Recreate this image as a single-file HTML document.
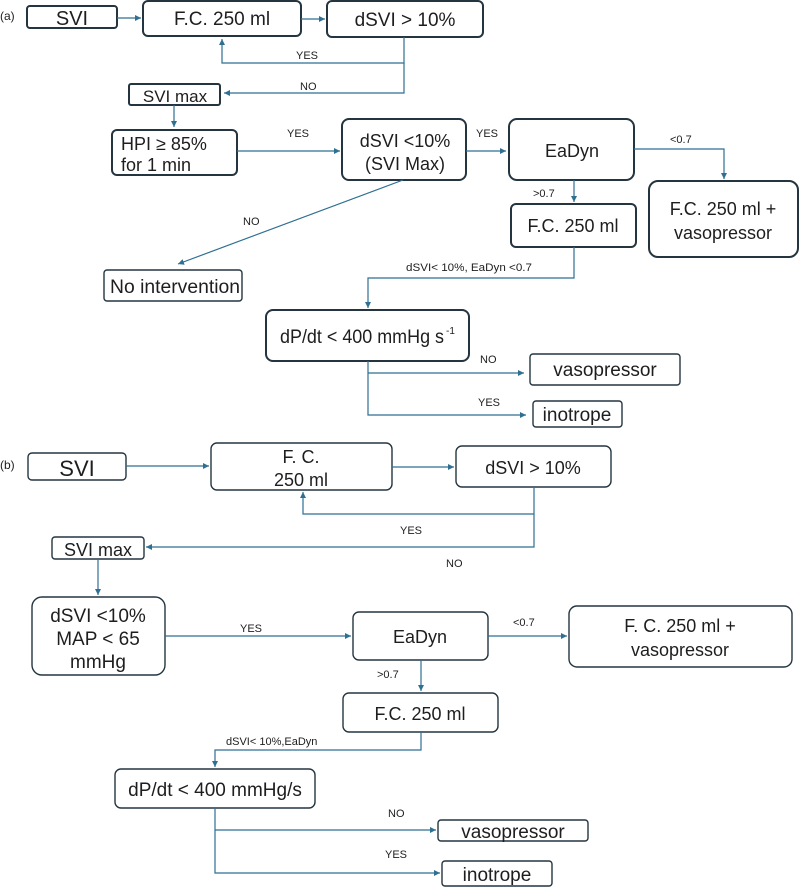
<!DOCTYPE html>
<html><head><meta charset="utf-8"><style>
html,body{margin:0;padding:0;background:#fff;}
svg{display:block;}
text{font-family:"Liberation Sans",sans-serif;fill:#1e1e1e;}
.b{fill:#fff;stroke:#243540;stroke-width:2;}
.b2{fill:#fff;stroke:#243540;stroke-width:1.4;}
.l{fill:none;stroke:#2e6f92;stroke-width:1.2;}
.s{font-size:11px;}
</style></head><body>
<svg width="800" height="887" viewBox="0 0 800 887" xmlns="http://www.w3.org/2000/svg">
<defs><marker id="a" markerWidth="8" markerHeight="8" refX="6" refY="3" orient="auto" markerUnits="userSpaceOnUse"><path d="M0,0 L6,3 L0,6 z" fill="#2e6f92"/></marker></defs>

<!-- (a) -->
<text x="0" y="20" font-size="12">(a)</text>
<rect class="b" x="27" y="6" width="90" height="22" rx="3"/>
<text x="72" y="25" font-size="20" text-anchor="middle">SVI</text>
<rect class="b" x="143" y="1" width="158" height="35" rx="5"/>
<text x="222" y="25" font-size="19" text-anchor="middle">F.C. 250 ml</text>
<rect class="b" x="327" y="1" width="156" height="36" rx="5"/>
<text x="405" y="26" font-size="19" text-anchor="middle">dSVI &gt; 10%</text>
<line class="l" x1="117" y1="18" x2="141" y2="18" marker-end="url(#a)"/>
<line class="l" x1="301" y1="19" x2="325" y2="19" marker-end="url(#a)"/>
<polyline class="l" points="404,37 404,63 222,63 222,39" marker-end="url(#a)"/>
<text x="296" y="59" class="s">YES</text>
<polyline class="l" points="404,63 404,93 224,93" marker-end="url(#a)"/>
<text x="300" y="90" class="s">NO</text>
<rect class="b" x="129" y="84" width="91" height="21" rx="2"/>
<text x="175" y="102" font-size="17" text-anchor="middle">SVI max</text>
<line class="l" x1="174" y1="105" x2="174" y2="127" marker-end="url(#a)"/>
<rect class="b" x="112" y="130" width="125" height="45" rx="5"/>
<text x="121" y="150" font-size="18">HPI ≥ 85%</text>
<text x="121" y="171" font-size="18">for 1 min</text>
<line class="l" x1="237" y1="151" x2="340" y2="151" marker-end="url(#a)"/>
<text x="287" y="137" class="s">YES</text>
<rect class="b" x="342" y="119" width="124" height="61" rx="7"/>
<text x="405" y="147" font-size="18" text-anchor="middle">dSVI &lt;10%</text>
<text x="405" y="170" font-size="18" text-anchor="middle">(SVI Max)</text>
<line class="l" x1="466" y1="151" x2="506" y2="151" marker-end="url(#a)"/>
<text x="476" y="137" class="s">YES</text>
<rect class="b" x="509" y="119" width="125" height="61" rx="8"/>
<text x="572" y="157" font-size="18" text-anchor="middle">EaDyn</text>
<polyline class="l" points="634,149 724,149 724,179" marker-end="url(#a)"/>
<text x="670" y="143" class="s">&lt;0.7</text>
<rect class="b" x="649" y="181" width="149" height="76" rx="9"/>
<text x="723" y="215" font-size="18" text-anchor="middle">F.C. 250 ml +</text>
<text x="723" y="239" font-size="18" text-anchor="middle">vasopressor</text>
<line class="l" x1="574" y1="180" x2="574" y2="202" marker-end="url(#a)"/>
<text x="533" y="197" class="s">&gt;0.7</text>
<rect class="b" x="511" y="204" width="125" height="43" rx="5"/>
<text x="573" y="232" font-size="18" text-anchor="middle">F.C. 250 ml</text>
<line class="l" x1="403" y1="180" x2="178" y2="264" marker-end="url(#a)"/>
<text x="243" y="225" class="s">NO</text>
<rect class="b2" x="104" y="270" width="138" height="31" rx="3"/>
<text x="110" y="293" font-size="19" textLength="130" lengthAdjust="spacingAndGlyphs">No intervention</text>
<polyline class="l" points="574,247 574,278 368,278 368,308" marker-end="url(#a)"/>
<text x="406" y="271" class="s" textLength="126" lengthAdjust="spacingAndGlyphs">dSVI&lt; 10%, EaDyn &lt;0.7</text>
<rect class="b" x="266" y="310" width="203" height="51" rx="7"/>
<text x="280" y="343" font-size="19" textLength="164" lengthAdjust="spacingAndGlyphs">dP/dt &lt; 400 mmHg s</text>
<text x="446" y="334" font-size="10">-1</text>
<polyline class="l" points="368,361 368,415 526,415" marker-end="url(#a)"/>
<line class="l" x1="368" y1="373" x2="524" y2="373" marker-end="url(#a)"/>
<text x="480" y="363" class="s">NO</text>
<text x="478" y="406" class="s">YES</text>
<rect class="b2" x="530" y="354" width="150" height="31" rx="3"/>
<text x="605" y="376" font-size="19" text-anchor="middle">vasopressor</text>
<rect class="b2" x="533" y="401" width="89" height="26" rx="3"/>
<text x="577" y="421" font-size="19" text-anchor="middle">inotrope</text>

<!-- (b) -->
<text x="0" y="469" font-size="12">(b)</text>
<rect class="b2" x="28" y="453" width="98" height="27" rx="4"/>
<text x="77" y="476" font-size="22" text-anchor="middle">SVI</text>
<line class="l" x1="126" y1="466" x2="209" y2="466" marker-end="url(#a)"/>
<rect class="b2" x="211" y="443" width="181" height="47" rx="6"/>
<text x="301" y="463" font-size="18" text-anchor="middle">F. C.</text>
<text x="301" y="486" font-size="18" text-anchor="middle">250 ml</text>
<line class="l" x1="392" y1="467" x2="454" y2="467" marker-end="url(#a)"/>
<rect class="b2" x="456" y="446" width="155" height="41" rx="6"/>
<text x="533" y="474" font-size="18" text-anchor="middle">dSVI &gt; 10%</text>
<polyline class="l" points="534,487 534,514 303,514 303,492" marker-end="url(#a)"/>
<text x="400" y="534" class="s">YES</text>
<polyline class="l" points="534,514 534,547 146,547" marker-end="url(#a)"/>
<text x="446" y="567" class="s">NO</text>
<rect class="b2" x="52" y="537" width="92" height="22" rx="3"/>
<text x="98" y="556" font-size="18" text-anchor="middle">SVI max</text>
<line class="l" x1="98" y1="559" x2="98" y2="595" marker-end="url(#a)"/>
<rect class="b2" x="32" y="597" width="133" height="78" rx="10"/>
<text x="98" y="622" font-size="19" text-anchor="middle">dSVI &lt;10%</text>
<text x="98" y="645" font-size="19" text-anchor="middle">MAP &lt; 65</text>
<text x="98" y="668" font-size="19" text-anchor="middle">mmHg</text>
<line class="l" x1="165" y1="636" x2="351" y2="636" marker-end="url(#a)"/>
<text x="240" y="632" class="s">YES</text>
<rect class="b2" x="353" y="612" width="135" height="48" rx="6"/>
<text x="420" y="643" font-size="18" text-anchor="middle">EaDyn</text>
<line class="l" x1="488" y1="636" x2="567" y2="636" marker-end="url(#a)"/>
<text x="513" y="626" class="s">&lt;0.7</text>
<rect class="b2" x="569" y="606" width="223" height="61" rx="8"/>
<text x="680" y="632" font-size="18" text-anchor="middle">F. C. 250 ml +</text>
<text x="680" y="656" font-size="18" text-anchor="middle">vasopressor</text>
<line class="l" x1="421" y1="660" x2="421" y2="691" marker-end="url(#a)"/>
<text x="377" y="678" class="s">&gt;0.7</text>
<rect class="b2" x="343" y="693" width="155" height="39" rx="6"/>
<text x="420" y="720" font-size="18" text-anchor="middle">F.C. 250 ml</text>
<polyline class="l" points="421,732 421,750 215,750 215,767" marker-end="url(#a)"/>
<text x="226" y="745" class="s">dSVI&lt; 10%,EaDyn</text>
<rect class="b2" x="115" y="769" width="200" height="39" rx="6"/>
<text x="215" y="796" font-size="19" text-anchor="middle">dP/dt &lt; 400 mmHg/s</text>
<polyline class="l" points="215,808 215,873 440,873" marker-end="url(#a)"/>
<line class="l" x1="215" y1="830" x2="436" y2="830" marker-end="url(#a)"/>
<text x="388" y="817" class="s">NO</text>
<text x="385" y="858" class="s">YES</text>
<rect class="b2" x="438" y="820" width="150" height="21" rx="3"/>
<text x="513" y="838" font-size="19" text-anchor="middle">vasopressor</text>
<rect class="b2" x="442" y="861" width="110" height="25" rx="3"/>
<text x="497" y="881" font-size="19" text-anchor="middle">inotrope</text>
</svg>
</body></html>
